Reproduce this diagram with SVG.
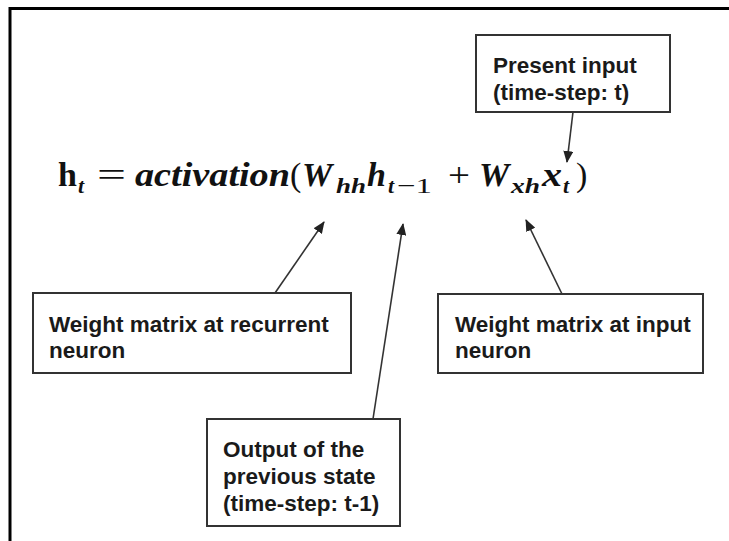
<svg xmlns="http://www.w3.org/2000/svg" width="729" height="541" viewBox="0 0 729 541">
<defs>
<marker id="ah" markerWidth="12" markerHeight="10" refX="11" refY="5" orient="auto" markerUnits="userSpaceOnUse">
<path d="M0,0 L12,5 L0,10 Z" fill="#222"/>
</marker>
<style>
.box{fill:#fff;stroke:#333;stroke-width:2}
.lbl{font-family:"Liberation Sans",Arial,sans-serif;font-weight:bold;font-size:22.5px;fill:#1a1a1a}
.m{font-family:"Liberation Serif","DejaVu Serif",serif;font-weight:bold;font-style:italic;font-size:34px;fill:#111}
.s{font-family:"Liberation Serif","DejaVu Serif",serif;font-weight:bold;font-style:italic;font-size:22px;fill:#111}
.m.u{font-style:normal}
.m.r,.s.r{font-style:normal;font-weight:normal}
.con{stroke:#333;stroke-width:1.6;fill:none;marker-end:url(#ah)}
</style>
</defs>
<rect width="729" height="541" fill="#fff"/>
<path d="M10,541 L10,8.5 L729,8.5" fill="none" stroke="#000" stroke-width="3"/>
<g id="equation">
<text class="m u" x="58" y="186">h</text>
<text class="s" x="78" y="193">t</text>
<text class="m r" x="97" y="186" textLength="29" lengthAdjust="spacingAndGlyphs">=</text>
<text class="m" x="135" y="186" textLength="155" lengthAdjust="spacingAndGlyphs">activation</text>
<text class="m r" x="290" y="186">(</text>
<text class="m" x="302" y="186">W</text>
<text class="s" x="336" y="193" textLength="30" lengthAdjust="spacingAndGlyphs">hh</text>
<text class="m" x="367" y="186">h</text>
<text class="s" x="388" y="193">t</text>
<text class="s r" x="397" y="193" textLength="35" lengthAdjust="spacingAndGlyphs">−1</text>
<text class="m r" x="448" y="186" textLength="22" lengthAdjust="spacingAndGlyphs">+</text>
<text class="m" x="479" y="186">W</text>
<text class="s" x="511" y="193" textLength="29" lengthAdjust="spacingAndGlyphs">xh</text>
<text class="m" x="542" y="186" textLength="20" lengthAdjust="spacingAndGlyphs">x</text>
<text class="s" x="563" y="193">t</text>
<text class="m r" x="576" y="186">)</text>
</g>
<g id="connectors">
<line class="con" x1="573" y1="112" x2="567" y2="162"/>
<line class="con" x1="275" y1="293" x2="324" y2="222"/>
<line class="con" x1="562" y1="294" x2="526" y2="220"/>
<line class="con" x1="373" y1="419" x2="403" y2="224"/>
</g>
<g id="present-input">
<rect class="box" x="476" y="35" width="194" height="77"/>
<text class="lbl" x="493" y="73">Present input</text>
<text class="lbl" x="493" y="100">(time-step: t)</text>
</g>
<g id="weight-recurrent">
<rect class="box" x="33" y="293" width="318" height="80"/>
<text class="lbl" x="49" y="332">Weight matrix at recurrent</text>
<text class="lbl" x="49" y="358">neuron</text>
</g>
<g id="weight-input">
<rect class="box" x="438" y="294" width="265" height="79"/>
<text class="lbl" x="455" y="332">Weight matrix at input</text>
<text class="lbl" x="455" y="358">neuron</text>
</g>
<g id="previous-output">
<rect class="box" x="207" y="419" width="193" height="107"/>
<text class="lbl" x="223" y="457">Output of the</text>
<text class="lbl" x="223" y="484">previous state</text>
<text class="lbl" x="223" y="511">(time-step: t-1)</text>
</g>
</svg>
